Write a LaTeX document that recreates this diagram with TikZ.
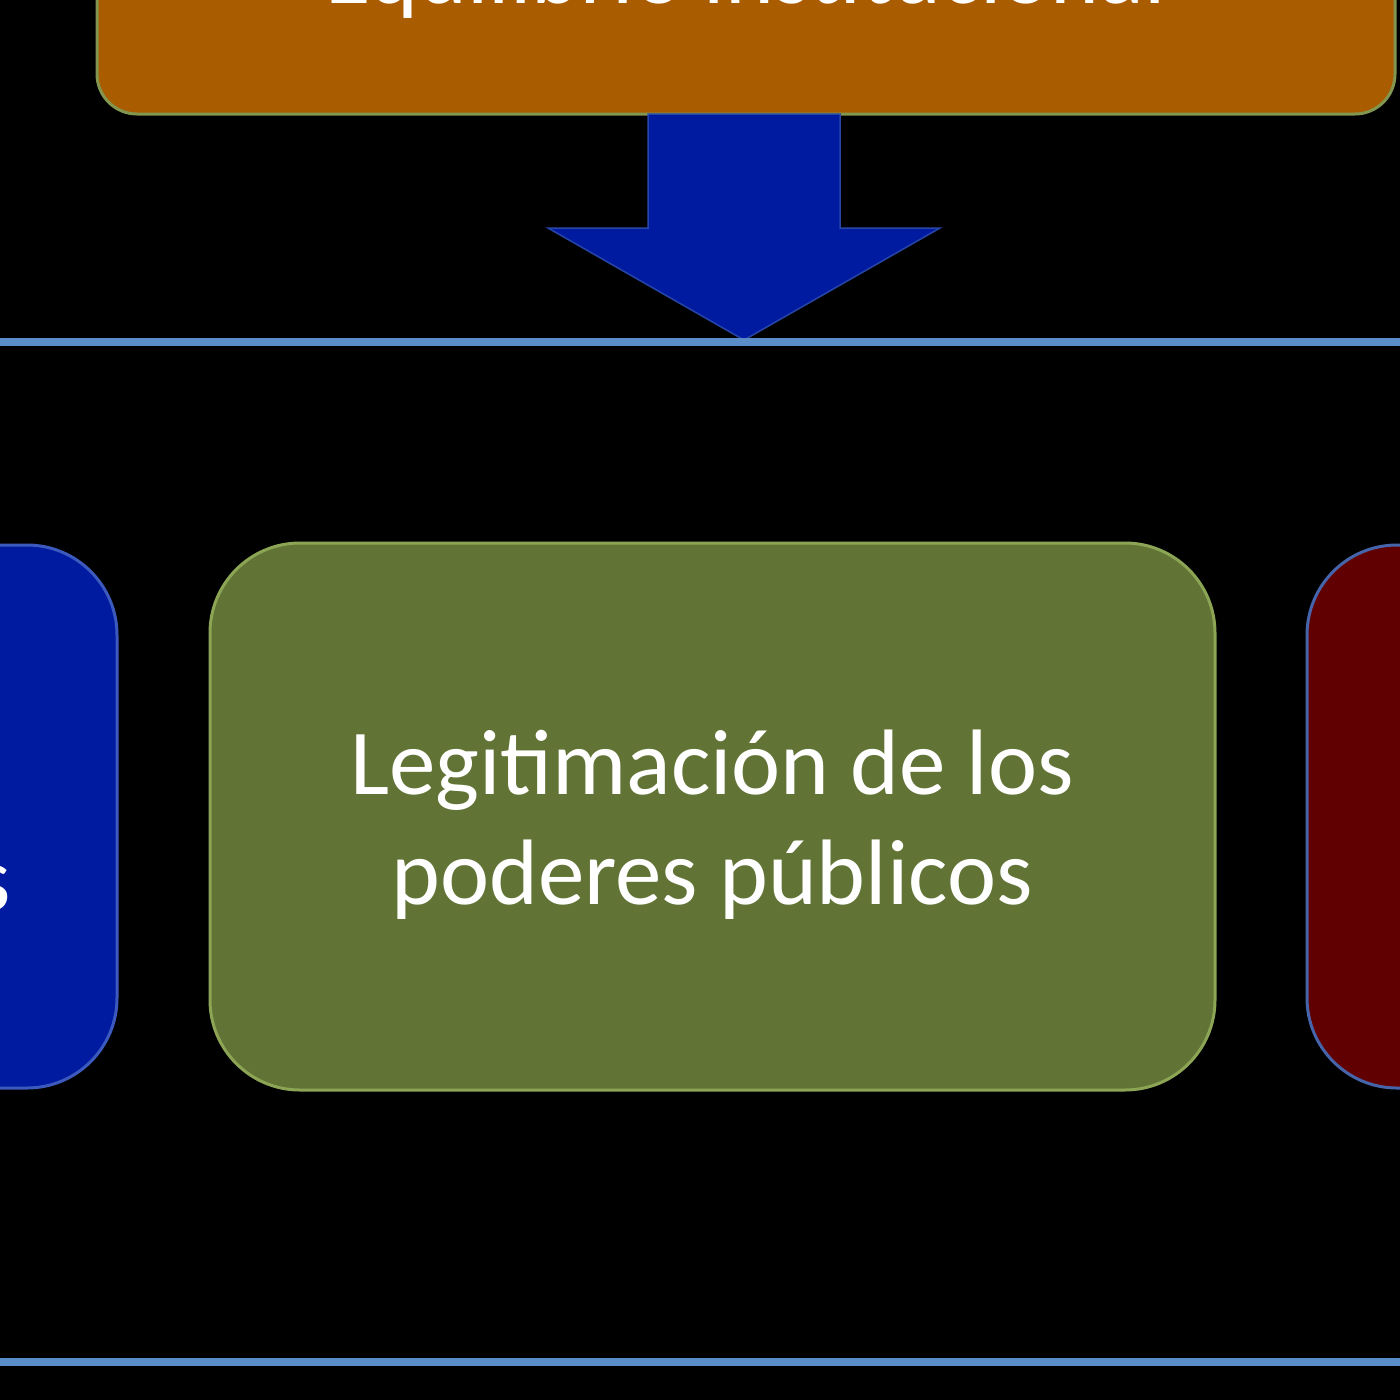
\documentclass[tikz,border=0pt]{standalone}
\usepackage{fontspec}
\setmainfont{Carlito}
\begin{document}
\begin{tikzpicture}[x=1pt,y=-1pt,
  box/.style={rounded corners=90pt,line width=3pt},
  lbl/.style={text=white,font=\fontsize{93}{110}\selectfont,align=center}]
\useasboundingbox (0,0) rectangle (1400,1400);
\clip (0,0) rectangle (1400,1400);
\fill[black] (0,0) rectangle (1400,1400);
% top box
\draw[box,rounded corners=40pt,draw={rgb,255:red,130;green,150;blue,80},fill={rgb,255:red,170;green,92;blue,0}] (97,-200) rectangle (1395,114);
\node[lbl,anchor=base] (top) at (746,4) {Equilibrio institucional};
% arrow
\draw[fill={rgb,255:red,0;green,26;blue,160},draw={rgb,255:red,40;green,70;blue,170},line width=1.5pt]
  (648,114) -- (840,114) -- (840,228) -- (940,228) -- (744,340) -- (548,228) -- (648,228) -- cycle;
% lines
\draw[line width=8pt,draw={rgb,255:red,90;green,140;blue,200}] (0,342) -- (1400,342);
\draw[line width=8pt,draw={rgb,255:red,90;green,140;blue,200}] (0,1362) -- (1400,1362);
% left box
\draw[box,fill={rgb,255:red,0;green,26;blue,160},draw={rgb,255:red,60;green,90;blue,190}] (-400,545) rectangle (117,1088);
\node[lbl,anchor=base east] (ls) at (14,910) {s};
% center box
\draw[box,fill={rgb,255:red,98;green,116;blue,53},draw={rgb,255:red,140;green,165;blue,85}] (210,543) rectangle (1215,1090);
\node[lbl] (c) at (712,825) {Legitimación de los\\poderes públicos};
% right box
\draw[box,fill={rgb,255:red,96;green,0;blue,0},draw={rgb,255:red,70;green,100;blue,170}] (1307,545) rectangle (1800,1088);
\end{tikzpicture}
\end{document}
